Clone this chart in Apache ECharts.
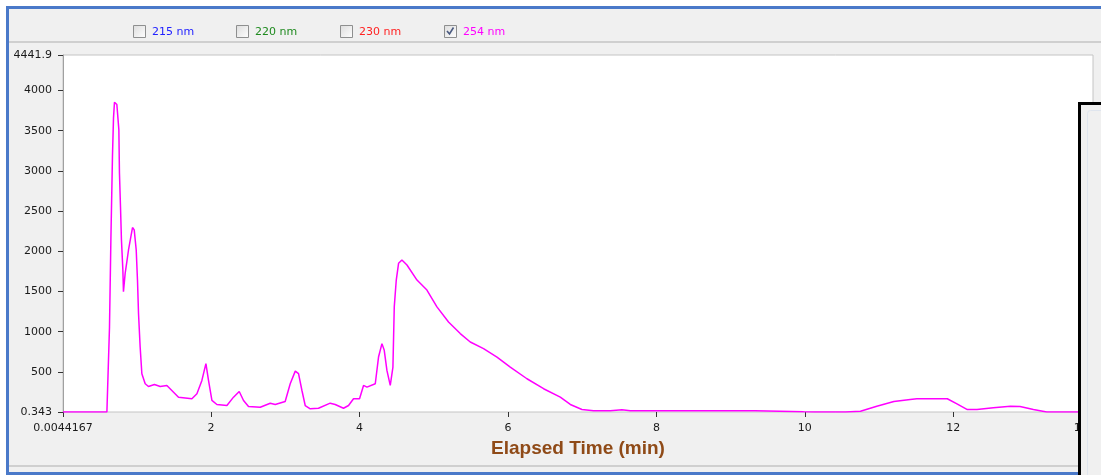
<!DOCTYPE html>
<html>
<head>
<meta charset="utf-8">
<script src="https://cdn.jsdelivr.net/npm/echarts@6/dist/echarts.min.js"></script>
<style>
  html, body { margin: 0; padding: 0; background: #ffffff; width: 1101px; height: 475px; overflow: hidden; }
  #frame { position: absolute; left: 6px; top: 6px; width: 1101px; height: 463px; border: 3px solid #4a79c9; background: #f0f0f0; }
  .sep { position: absolute; left: 9px; width: 1092px; height: 2px; background: #cfcfcf; }
  #chart { position: absolute; left: 0; top: 0; width: 1101px; height: 475px; }
</style>
</head>
<body>
<div id="frame"></div>
<div class="sep" style="top:41px"></div>
<div class="sep" style="top:465px"></div>
<div id="chart"></div>
<script>
// ---- data ----
const legendNames = ['215 nm', '220 nm', '230 nm', '254 nm'];
const legendColors = ['#2222ff', '#1f8a1f', '#ff2222', '#ff00ff'];
const legendChecked = [false, false, false, true];

const xTicks = [0.0044167, 2, 4, 6, 8, 10, 12, 13.883];
const yTicks = [0.343, 500, 1000, 1500, 2000, 2500, 3000, 3500, 4000, 4441.9];

const times = [
  0.0044167, 0.596, 0.631, 0.650, 0.671, 0.685, 0.698, 0.730, 0.757, 0.765,
  0.779, 0.792, 0.811, 0.819, 0.842, 0.865, 0.887, 0.919, 0.941, 0.964,
  0.991, 1.008, 1.022, 1.044, 1.067, 1.112, 1.156, 1.237, 1.314, 1.404,
  1.561, 1.741, 1.809, 1.876, 1.930, 1.965, 2.011, 2.078, 2.213, 2.302,
  2.379, 2.437, 2.504, 2.662, 2.797, 2.864, 2.998, 3.066, 3.134, 3.178,
  3.224, 3.268, 3.336, 3.447, 3.605, 3.672, 3.784, 3.852, 3.919, 4.000,
  4.054, 4.100, 4.212, 4.256, 4.302, 4.333, 4.369, 4.414, 4.450, 4.468,
  4.495, 4.526, 4.571, 4.639, 4.774, 4.908, 5.043, 5.199, 5.357, 5.492,
  5.671, 5.852, 6.031, 6.256, 6.480, 6.705, 6.840, 6.997, 7.154, 7.379,
  7.536, 7.648, 9.333, 9.356, 9.984, 10.119, 10.55, 10.75, 10.97, 11.20,
  11.42, 11.51, 11.92, 12.05, 12.19, 12.32, 12.54, 12.77, 12.90, 13.08,
  13.26, 13.67, 13.883
];
const absorb254 = [
  0.343, 0.343, 1059, 2166, 3181, 3660, 3855, 3826, 3514, 2978,
  2557, 2141, 1767, 1496, 1725, 1870, 2016, 2182, 2295, 2266,
  2016, 1642, 1226, 809, 477, 352, 318, 343, 318, 331,
  185, 165, 227, 393, 602, 393, 144, 94, 81, 185,
  256, 144, 69, 60, 110, 94, 131, 352, 509, 477,
  268, 81, 40, 47, 110, 94, 47, 81, 165, 165,
  331, 310, 352, 684, 851, 768, 518, 331, 559, 1308,
  1642, 1850, 1891, 1829, 1642, 1517, 1308, 1121, 976, 871,
  789, 684, 559, 414, 290, 185, 94, 31, 15, 15,
  27, 15, 15, 2, 2, 0.343, 0.343, 10, 72, 131,
  156, 165, 165, 102, 31, 31, 52, 72, 69, 31,
  0.343, 0.343, 0.343
];

// ---- chart ----
const chart = echarts.init(document.getElementById('chart'), null, { renderer: 'canvas' });
const tickFont = '"DejaVu Sans", sans-serif';
const nameFont = '"Liberation Sans", Arial, sans-serif';

const legendX = [133, 236, 340, 444];
const graphics = [];
legendNames.forEach((name, i) => {
  const x = legendX[i];
  graphics.push({
    type: 'rect', left: x, top: 25, shape: { x: 0, y: 0, width: 12, height: 12 },
    style: { fill: new echarts.graphic.LinearGradient(0, 0, 1, 1, [{ offset: 0, color: '#dcdcdc' }, { offset: 1, color: '#ffffff' }]), stroke: '#8e8f8f', lineWidth: 1 }
  });
  if (legendChecked[i]) {
    graphics.push({
      type: 'polyline', shape: { points: [[x + 3, 31], [x + 5.5, 34], [x + 9.5, 27.5]] },
      style: { stroke: '#4a5a80', lineWidth: 1.6, fill: null }
    });
  }
  graphics.push({
    type: 'text', left: x + 19, top: 26.5,
    style: { text: name, fill: legendColors[i], font: '11px ' + tickFont }
  });
});
// right-hand overlapping panel
graphics.push({
  type: 'rect', z: 100, shape: { x: 1079.5, y: 103.5, width: 40, height: 400 },
  style: { fill: '#f0f0f0', stroke: '#000000', lineWidth: 3 }
});
graphics.push({
  type: 'rect', z: 101, shape: { x: 1087.5, y: 110.5, width: 30, height: 380, r: 3 },
  style: { fill: null, stroke: '#dfe5ee', lineWidth: 1 }
});

const fmt = v => {
  const hit = [...xTicks, ...yTicks].find(t => Math.abs(t - v) < 1e-9);
  return String(hit !== undefined ? hit : v);
};

chart.setOption({
  animation: false,
  backgroundColor: 'transparent',
  grid: { left: 63, right: 8, top: 55, bottom: 63, outerBoundsMode: 'none', containLabel: false, show: true, backgroundColor: '#ffffff', borderColor: '#c4c4c4', borderWidth: 1 },
  graphic: graphics,
  xAxis: {
    type: 'value', min: 0.0044167, max: 13.883,
    name: 'Elapsed Time (min)', nameLocation: 'middle', nameGap: 27,
    nameTextStyle: { color: '#8f4a17', fontSize: 19, fontWeight: 'bold', fontFamily: nameFont },
    axisLine: { show: false },
    axisTick: { show: true, length: 5, inside: false, customValues: xTicks, lineStyle: { color: '#333' } },
    axisLabel: { customValues: xTicks, margin: 11, color: '#1a1a1a', fontSize: 11, fontFamily: tickFont, formatter: fmt },
    splitLine: { show: false }
  },
  yAxis: {
    type: 'value', min: 0.343, max: 4441.9,
    axisLine: { show: true, lineStyle: { color: '#a0a0a0' } },
    axisTick: { show: true, length: 5, customValues: yTicks, lineStyle: { color: '#333' } },
    axisLabel: { customValues: yTicks, margin: 11, color: '#1a1a1a', fontSize: 11, fontFamily: tickFont, formatter: fmt },
    splitLine: { show: false }
  },
  series: [{
    name: '254 nm', type: 'line', showSymbol: false, smooth: false,
    lineStyle: { color: '#ff00ff', width: 1.5 },
    data: times.map((t, i) => [t, absorb254[i]])
  }]
});
</script>
</body>
</html>
